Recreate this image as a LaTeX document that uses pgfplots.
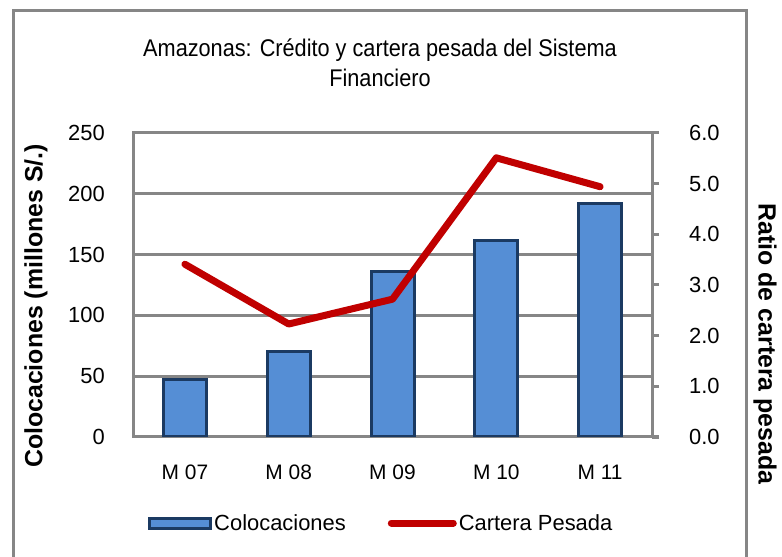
\documentclass[border=0pt]{standalone}
\usepackage{pgfplots}
\pgfplotsset{compat=1.18}
\usepackage{fontspec}
\setmainfont{Liberation Sans}
\definecolor{barfill}{HTML}{558ED5}
\definecolor{baredge}{HTML}{1B3A62}
\definecolor{redline}{HTML}{C00000}
\definecolor{gridgray}{HTML}{868686}
\newcommand{\fs}[1]{\fontsize{#1}{#1}\selectfont}
\pgfplotsset{
  barlegend/.style={legend image code/.code={\draw[##1] (0bp,-5bp) rectangle (61bp,5bp);}},
  linelegend/.style={legend image code/.code={\draw[##1] (0bp,0bp) -- (62bp,0bp);}},
}
\begin{document}
\begin{tikzpicture}
\useasboundingbox (0bp,0bp) rectangle (782bp,557bp);
\fill[white] (0bp,0bp) rectangle (782bp,557bp);
\draw[gridgray, line width=3bp] (13bp,-10bp) -- (13bp,546bp) -- (746bp,546bp) -- (746bp,-10bp);
\node[align=center, font=\fontsize{22}{30}\selectfont, inner sep=0pt] at (380bp,494bp) {\scalebox{0.99}[1.1]{Amazonas: Crédito y cartera pesada del Sistema}\\\scalebox{0.99}[1.1]{Financiero}};
\node[rotate=90, font=\bfseries\fs{25}, inner sep=0pt] at (36bp,251bp) {Colocaciones (millones S/.)};
\node[rotate=-90, font=\bfseries\fs{25}, inner sep=0pt] at (765bp,213bp) {Ratio de cartera pesada};

\begin{axis}[
  at={(133bp,120bp)}, anchor=south west,
  scale only axis, width=519bp, height=304bp,
  xmin=-0.5, xmax=4.5, ymin=0, ymax=250,
  ytick={0,50,...,250},
  xtick={0,...,4},
  xticklabels={M 07,M 08,M 09,M 10,M 11},
  ymajorgrids,
  grid style={gridgray, line width=3bp},
  axis line style={gridgray, line width=3bp},
  major tick length=0pt,
  tick style={draw=none},
  /pgf/number format/assume math mode=true,
  yticklabel style={font=\fs{22}, inner sep=0pt, anchor=east, xshift=-28bp},
  xticklabel style={font=\fs{21}, anchor=center, yshift=-35bp},
]
\addplot[ybar, bar width=43bp, fill=barfill, draw=baredge, line width=3bp]
  coordinates {(0,47.6) (1,70.6) (2,136) (3,161.5) (4,192.3)};
\end{axis}

\begin{axis}[
  at={(133bp,120bp)}, anchor=south west,
  scale only axis, width=519bp, height=304bp,
  xmin=-0.5, xmax=4.5, ymin=0, ymax=6,
  axis x line=none,
  axis y line*=right,
  y axis line style={gridgray, line width=3bp, -},
  ytick={0,1,...,6},
  tick align=outside,
  major tick length=7bp,
  ytick style={gridgray, line width=3bp},
  /pgf/number format/assume math mode=true,
  yticklabel style={font=\fs{22}, inner sep=0pt, anchor=west, xshift=30bp,
    /pgf/number format/.cd, fixed, fixed zerofill, precision=1},
  legend columns=2,
  legend style={at={(0.029,-0.283)}, anchor=west, draw=none, fill=none,
    inner sep=0pt, font=\fs{22},
    /tikz/every even column/.append style={column sep=40bp}},
  legend cell align=left,
]
\addlegendimage{fill=barfill, draw=baredge, line width=3bp, barlegend}
\addlegendentry{Colocaciones}
\addplot[redline, line width=7bp, line cap=round, line join=round, linelegend]
  coordinates {(0,3.41) (1,2.23) (2,2.72) (3,5.51) (4,4.94)};
\addlegendentry{Cartera Pesada}
\end{axis}
\end{tikzpicture}
\end{document}
